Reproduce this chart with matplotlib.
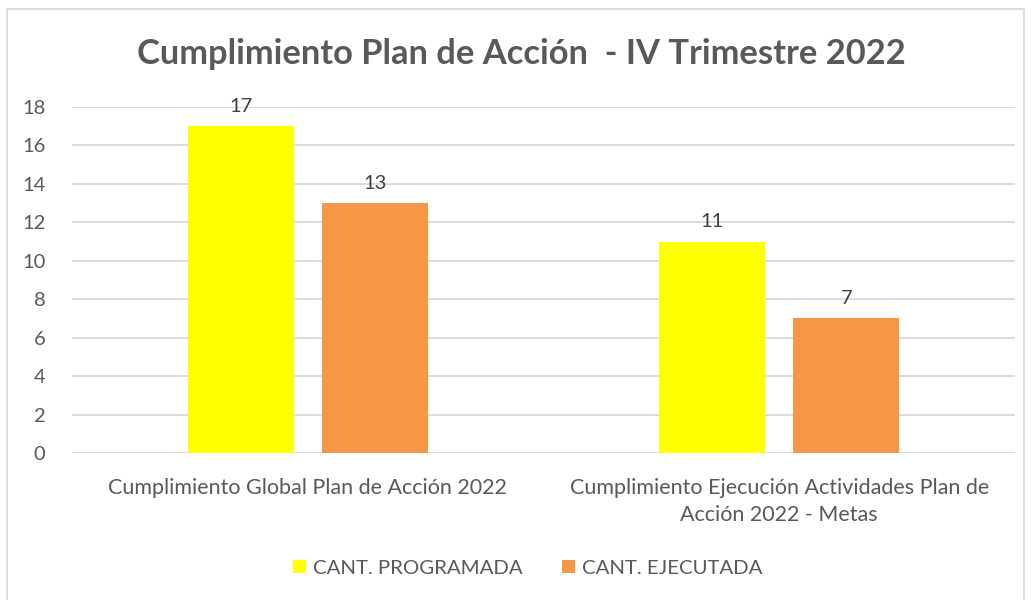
import matplotlib.pyplot as plt
import numpy as np
from matplotlib.patches import Rectangle

# Datos
categorias = ['Cumplimiento Global Plan de Acción 2022',
              'Cumplimiento Ejecución Actividades Plan de\nAcción 2022 - Metas']
programada = [17, 11]
ejecutada = [13, 7]
series = ['CANT. PROGRAMADA', 'CANT. EJECUTADA']
colores = ['#FFFF00', '#F79646']
gris = '#595959'

plt.rcParams['font.family'] = ['Lato', 'DejaVu Sans']

fig = plt.figure(figsize=(10.31, 6.0), dpi=100)
ax = fig.add_axes([0.0698, 0.245, 0.9147, 0.5767])

x = np.arange(len(categorias))
ancho = 0.225
b1 = ax.bar(x - 0.142, programada, ancho, color=colores[0], label=series[0], zorder=3)
b2 = ax.bar(x + 0.142, ejecutada, ancho, color=colores[1], label=series[1], zorder=3)

for barras in (b1, b2):
    ax.bar_label(barras, padding=8, fontsize=14.5, color='#404040')

ax.set_xlim(-0.5, 1.5)
ax.set_ylim(0, 18)
ax.set_yticks(range(0, 19, 2))
ax.yaxis.grid(True, color='#D9D9D9', linewidth=1.3, zorder=0)
for s in ax.spines.values():
    s.set_visible(False)
ax.tick_params(axis='both', length=0, labelsize=14.5, colors=gris)
ax.tick_params(axis='y', pad=19)
ax.tick_params(axis='x', pad=18, labelsize=15.5)
ax.set_xticks(x)
ax.set_xticklabels(categorias, linespacing=1.45)

fig.text(0.506, 0.91, 'Cumplimiento Plan de Acción  - IV Trimestre 2022',
         ha='center', va='center', fontsize=24.8, fontweight='bold', color=gris)

fig.legend(loc='center', bbox_to_anchor=(0.512, 0.053), ncol=2, frameon=False,
           fontsize=14.7, labelcolor=gris, handlelength=0.65, handleheight=0.65,
           handletextpad=0.35, columnspacing=1.9)

# Borde del área del gráfico
fig.patches.append(Rectangle((7 / 1031, -0.05), 1017 / 1031, 1.035,
                             transform=fig.transFigure, fill=False,
                             edgecolor='#D9D9D9', linewidth=1.3))

plt.savefig('out.png', dpi=100)
plt.close(fig)
